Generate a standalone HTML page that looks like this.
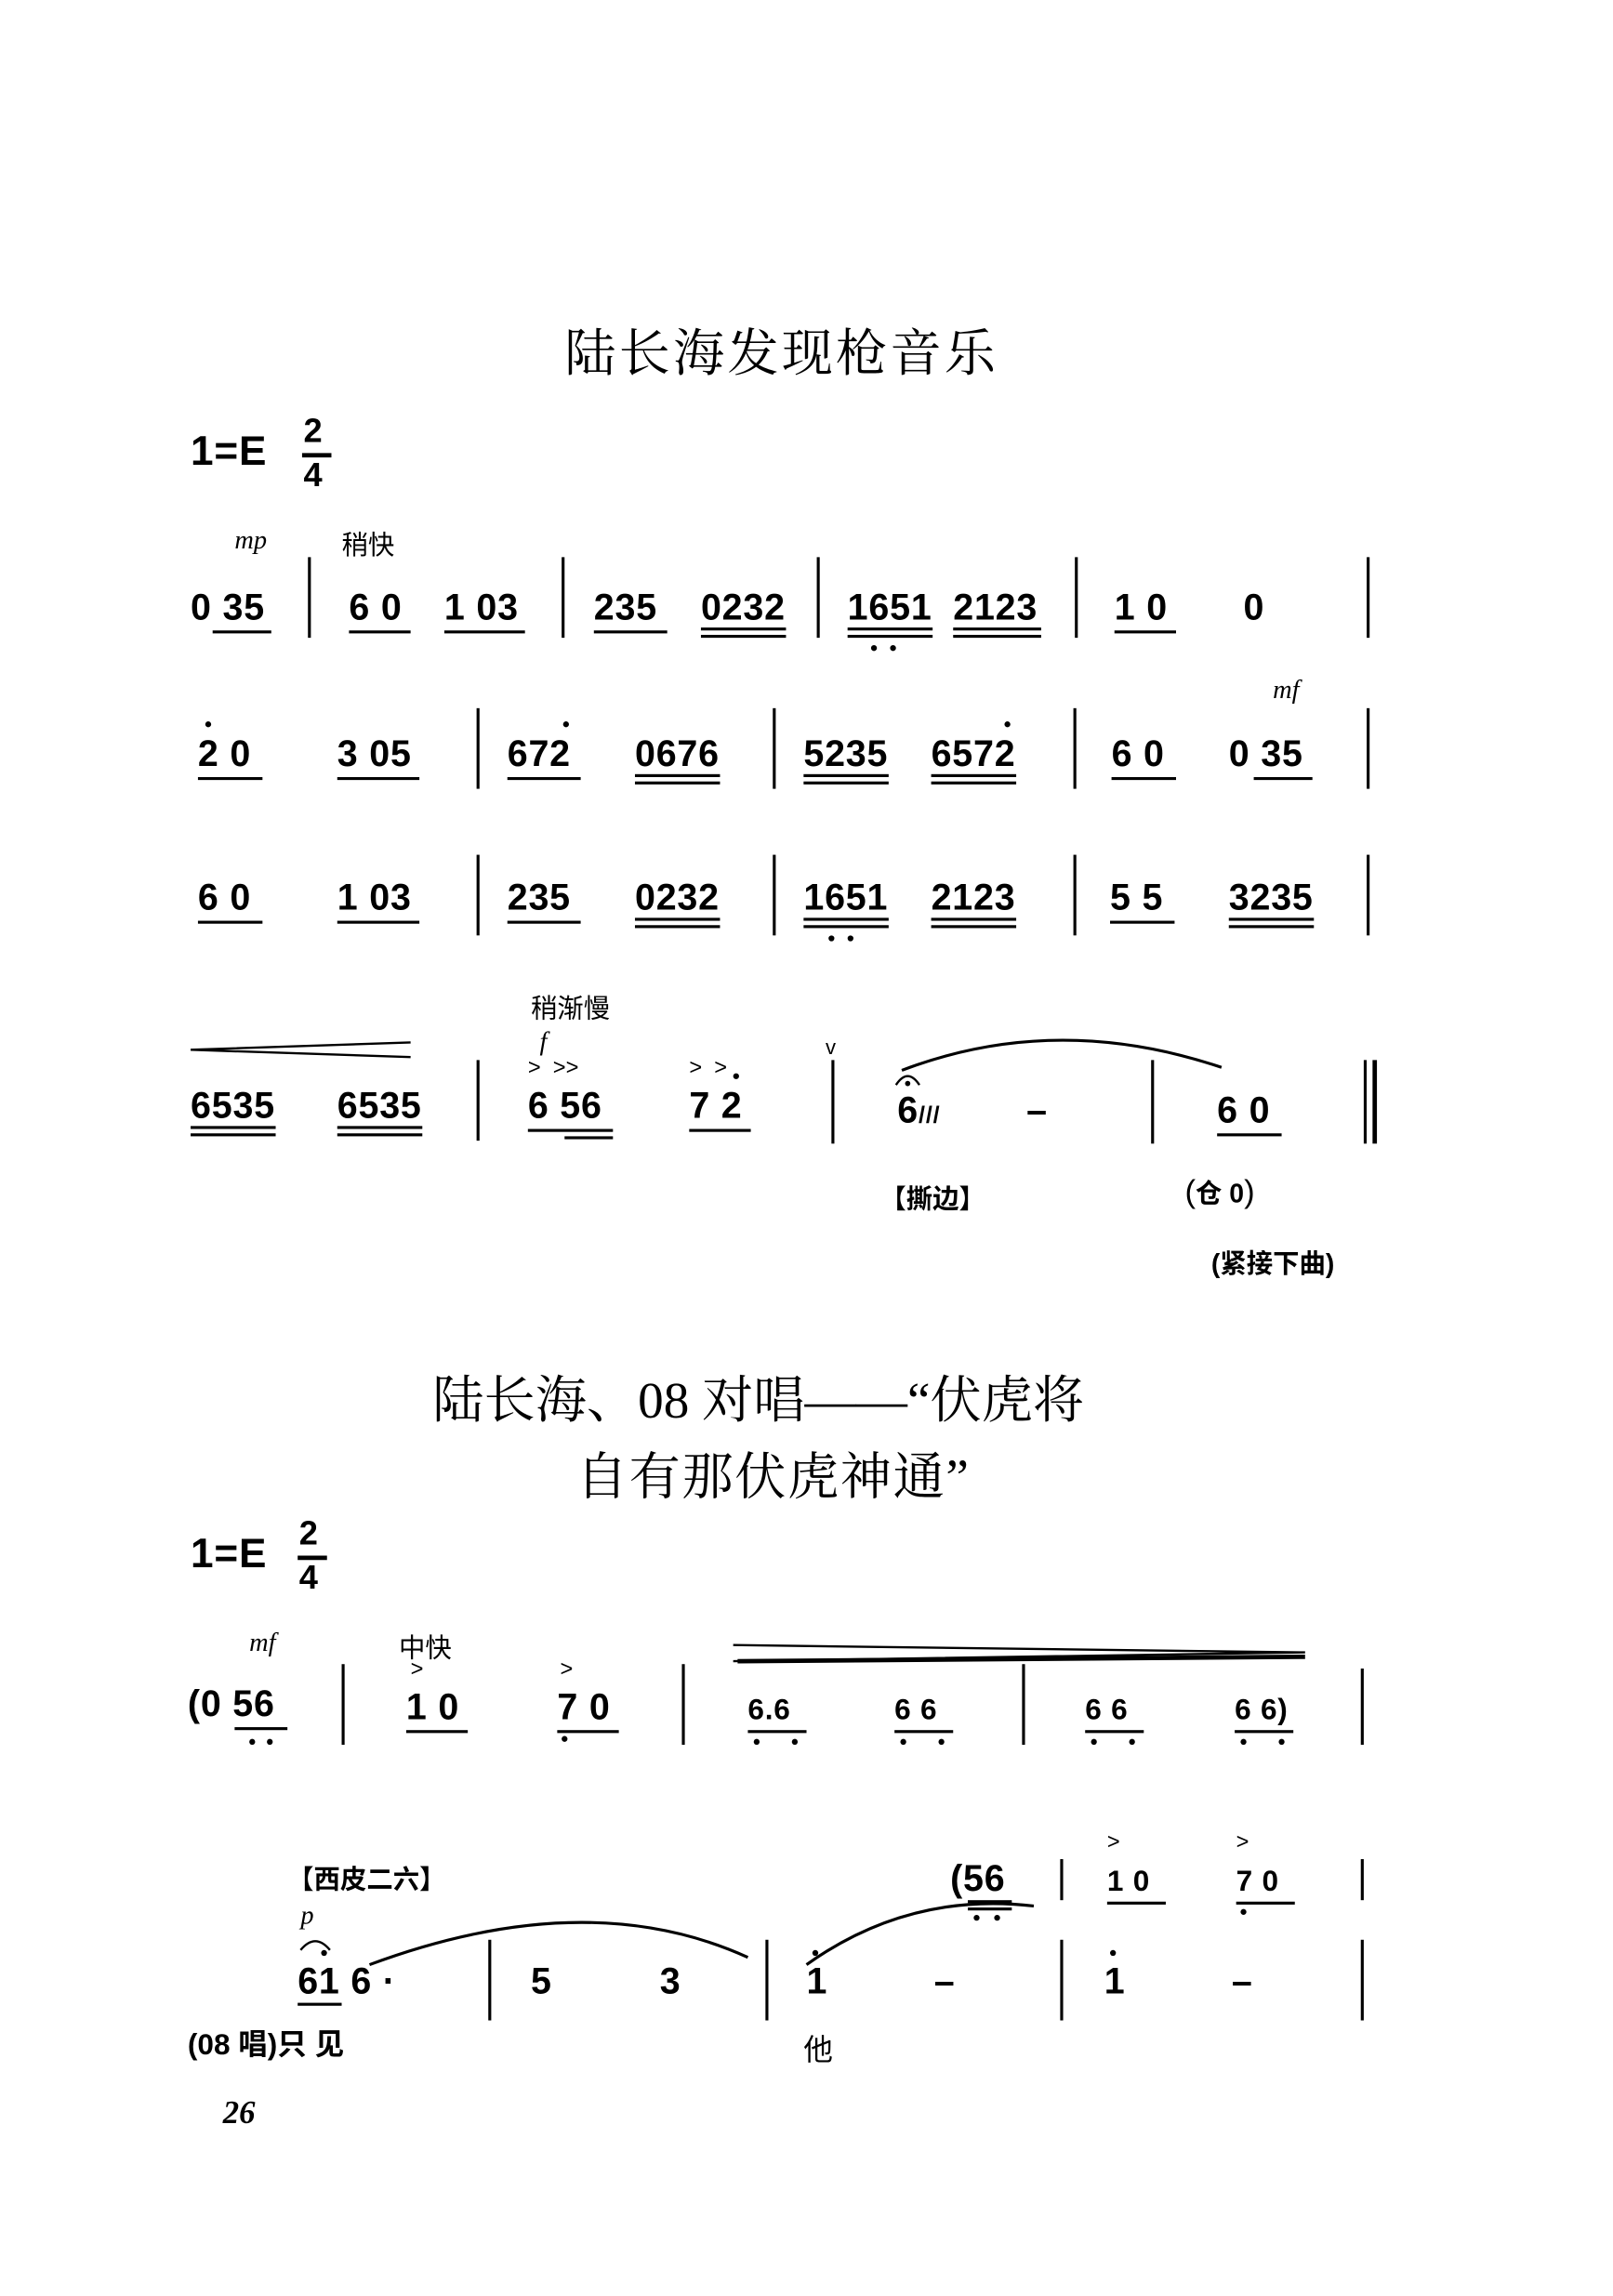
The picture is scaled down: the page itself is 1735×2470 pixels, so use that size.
<!DOCTYPE html>
<html><head><meta charset="utf-8"><style>
body{margin:0;background:#fff;width:1735px;height:2469px;overflow:hidden}
#p{position:absolute;left:0;top:0;width:1100px;height:1566px;transform:scale(1.5773);transform-origin:0 0}
#p div{position:absolute;white-space:nowrap;color:#000}
.n{font:bold 25px "Liberation Sans",sans-serif;transform:translateY(-50%);letter-spacing:0.5px}
.t{font:35px "Liberation Serif","Noto Serif CJK SC",serif;letter-spacing:2px}
.s{font-size:18px;font-family:"Liberation Sans","Noto Sans CJK SC",sans-serif}
.i{font:italic 18px "Liberation Serif",serif}
.b{width:2px;background:#000}
.u{height:2px;background:#000}
.d{width:4px;height:4px;border-radius:50%;background:#000}
</style></head><body><div id="p">
<div class="t" style="left:385px;top:214px">陆长海发现枪音乐</div>
<div class="n" style="left:130px;top:308px;font-size:28px">1=E</div>
<div class="n" style="left:207px;top:294px;font-size:23px">2</div><div class="u" style="left:206px;top:309px;width:20px;height:3px"></div><div class="n" style="left:207px;top:324px;font-size:23px">4</div>

<div class="i" style="left:160px;top:358px">mp</div><div class="s" style="left:233px;top:358px">稍快</div>
<div class="n" style="left:130px;top:415px">0 35</div><div class="u" style="left:145px;top:430px;width:40px"></div>
<div class="b" style="left:210px;top:380px;height:55px"></div>
<div class="n" style="left:238px;top:415px">6 0</div><div class="u" style="left:238px;top:430px;width:42px"></div>
<div class="n" style="left:303px;top:415px">1 03</div><div class="u" style="left:303px;top:430px;width:55px"></div>
<div class="b" style="left:383px;top:380px;height:55px"></div>
<div class="n" style="left:405px;top:415px">235</div><div class="u" style="left:405px;top:430px;width:50px"></div>
<div class="n" style="left:478px;top:415px">0232</div><div class="u" style="left:478px;top:428px;width:58px"></div><div class="u" style="left:478px;top:433px;width:58px"></div>
<div class="b" style="left:557px;top:380px;height:55px"></div>
<div class="n" style="left:578px;top:415px">1651</div><div class="u" style="left:578px;top:428px;width:58px"></div><div class="u" style="left:578px;top:433px;width:58px"></div><div class="d" style="left:594px;top:440px"></div><div class="d" style="left:607px;top:440px"></div>
<div class="n" style="left:650px;top:415px">2123</div><div class="u" style="left:650px;top:428px;width:60px"></div><div class="u" style="left:650px;top:433px;width:60px"></div>
<div class="b" style="left:733px;top:380px;height:55px"></div>
<div class="n" style="left:760px;top:415px">1 0</div><div class="u" style="left:760px;top:430px;width:42px"></div>
<div class="n" style="left:848px;top:415px">0</div>
<div class="b" style="left:932px;top:380px;height:55px"></div>

<div class="i" style="left:868px;top:460px">mf</div>
<div class="n" style="left:135px;top:515px">2 0</div><div class="d" style="left:140px;top:492px"></div><div class="u" style="left:135px;top:530px;width:44px"></div>
<div class="n" style="left:230px;top:515px">3 05</div><div class="u" style="left:230px;top:530px;width:56px"></div>
<div class="b" style="left:325px;top:483px;height:55px"></div>
<div class="n" style="left:346px;top:515px">672</div><div class="d" style="left:384px;top:492px"></div><div class="u" style="left:346px;top:530px;width:50px"></div>
<div class="n" style="left:433px;top:515px">0676</div><div class="u" style="left:433px;top:528px;width:58px"></div><div class="u" style="left:433px;top:533px;width:58px"></div>
<div class="b" style="left:527px;top:483px;height:55px"></div>
<div class="n" style="left:548px;top:515px">5235</div><div class="u" style="left:548px;top:528px;width:58px"></div><div class="u" style="left:548px;top:533px;width:58px"></div>
<div class="n" style="left:635px;top:515px">6572</div><div class="d" style="left:685px;top:492px"></div><div class="u" style="left:635px;top:528px;width:58px"></div><div class="u" style="left:635px;top:533px;width:58px"></div>
<div class="b" style="left:732px;top:483px;height:55px"></div>
<div class="n" style="left:758px;top:515px">6 0</div><div class="u" style="left:758px;top:530px;width:44px"></div>
<div class="n" style="left:838px;top:515px">0 35</div><div class="u" style="left:855px;top:530px;width:40px"></div>
<div class="b" style="left:932px;top:483px;height:55px"></div>

<div class="n" style="left:135px;top:613px">6 0</div><div class="u" style="left:135px;top:628px;width:44px"></div>
<div class="n" style="left:230px;top:613px">1 03</div><div class="u" style="left:230px;top:628px;width:56px"></div>
<div class="b" style="left:325px;top:583px;height:55px"></div>
<div class="n" style="left:346px;top:613px">235</div><div class="u" style="left:346px;top:628px;width:50px"></div>
<div class="n" style="left:433px;top:613px">0232</div><div class="u" style="left:433px;top:626px;width:58px"></div><div class="u" style="left:433px;top:631px;width:58px"></div>
<div class="b" style="left:527px;top:583px;height:55px"></div>
<div class="n" style="left:548px;top:613px">1651</div><div class="u" style="left:548px;top:626px;width:58px"></div><div class="u" style="left:548px;top:631px;width:58px"></div><div class="d" style="left:565px;top:638px"></div><div class="d" style="left:578px;top:638px"></div>
<div class="n" style="left:635px;top:613px">2123</div><div class="u" style="left:635px;top:626px;width:58px"></div><div class="u" style="left:635px;top:631px;width:58px"></div>
<div class="b" style="left:732px;top:583px;height:55px"></div>
<div class="n" style="left:757px;top:613px">5 5</div><div class="u" style="left:757px;top:628px;width:44px"></div>
<div class="n" style="left:838px;top:613px">3235</div><div class="u" style="left:838px;top:626px;width:58px"></div><div class="u" style="left:838px;top:631px;width:58px"></div>
<div class="b" style="left:932px;top:583px;height:55px"></div>

<svg style="position:absolute;left:0;top:0" width="1100" height="1566">
<path d="M130 716 L280 711 M130 716 L280 721" stroke="#000" stroke-width="1.5" fill="none"/>
<path d="M615 730 Q720 690 833 728" stroke="#000" stroke-width="2" fill="none"/>
<path d="M611 740 Q619 728 627 740" stroke="#000" stroke-width="1.5" fill="none"/>
<circle cx="619" cy="739" r="1.8" fill="#000"/>
<path d="M500 1133 L890 1127 L500 1122" stroke="#000" stroke-width="1.5" fill="none"/>
<path d="M503 1133 L890 1130" stroke="#000" stroke-width="3"/>
<path d="M252 1340 Q400 1285 510 1335" stroke="#000" stroke-width="2" fill="none"/>
<path d="M550 1340 Q620 1290 705 1300" stroke="#000" stroke-width="2" fill="none"/>
<path d="M205 1330 Q215 1318 225 1330" stroke="#000" stroke-width="1.5" fill="none"/>
</svg>
<div class="n" style="left:130px;top:755px">6535</div><div class="u" style="left:130px;top:768px;width:58px"></div><div class="u" style="left:130px;top:773px;width:58px"></div>
<div class="n" style="left:230px;top:755px">6535</div><div class="u" style="left:230px;top:768px;width:58px"></div><div class="u" style="left:230px;top:773px;width:58px"></div>
<div class="b" style="left:325px;top:723px;height:55px"></div>
<div class="s" style="left:362px;top:674px">稍渐慢</div>
<div class="i" style="left:368px;top:700px">f</div>
<div class="s" style="left:360px;top:720px;font-size:15px">&gt;&nbsp;&nbsp;&gt;&gt;</div>
<div class="n" style="left:360px;top:755px">6 56</div><div class="u" style="left:360px;top:770px;width:58px"></div><div class="u" style="left:385px;top:775px;width:33px"></div>
<div class="s" style="left:470px;top:720px;font-size:15px">&gt;&nbsp;&nbsp;&gt;</div>
<div class="n" style="left:470px;top:755px">7 2</div><div class="d" style="left:500px;top:732px"></div><div class="u" style="left:470px;top:770px;width:42px"></div>
<div class="s" style="left:563px;top:706px;font-size:14px">v</div>
<div class="b" style="left:567px;top:723px;height:57px"></div>
<div class="n" style="left:612px;top:758px">6<span style="font-size:16px">///</span></div>
<div class="n" style="left:700px;top:758px">–</div>
<div class="b" style="left:785px;top:723px;height:57px"></div>
<div class="n" style="left:830px;top:758px">6 0</div><div class="u" style="left:830px;top:773px;width:44px"></div>
<div class="b" style="left:930px;top:723px;height:57px"></div><div class="b" style="left:936px;top:723px;height:57px;width:3px"></div>
<div class="s" style="left:600px;top:804px;font-weight:bold">【撕边】</div>
<div class="s" style="left:808px;top:800px;font-size:22px">(<b style="font-size:18px">仓 0</b>)</div>
<div class="s" style="left:826px;top:848px;font-weight:bold">(紧接下曲)</div>

<div class="t" style="left:295px;top:928px;letter-spacing:0">陆长海、08 对唱——“伏虎将</div>
<div class="t" style="left:393px;top:980px;letter-spacing:1px">自有那伏虎神通”</div>
<div class="n" style="left:130px;top:1060px;font-size:28px">1=E</div>
<div class="n" style="left:204px;top:1046px;font-size:23px">2</div><div class="u" style="left:203px;top:1061px;width:20px;height:3px"></div><div class="n" style="left:204px;top:1076px;font-size:23px">4</div>

<div class="i" style="left:170px;top:1110px">mf</div><div class="s" style="left:272px;top:1110px">中快</div>
<div class="n" style="left:128px;top:1163px">(0 56</div><div class="u" style="left:160px;top:1178px;width:36px"></div><div class="d" style="left:170px;top:1186px"></div><div class="d" style="left:182px;top:1186px"></div>
<div class="b" style="left:233px;top:1135px;height:55px"></div>
<div class="s" style="left:280px;top:1130px;font-size:15px">&gt;</div><div class="n" style="left:277px;top:1165px">1 0</div><div class="u" style="left:277px;top:1180px;width:42px"></div>
<div class="s" style="left:382px;top:1130px;font-size:15px">&gt;</div><div class="n" style="left:380px;top:1165px">7 0</div><div class="d" style="left:383px;top:1184px"></div><div class="u" style="left:380px;top:1180px;width:42px"></div>
<div class="b" style="left:465px;top:1135px;height:55px"></div>
<div class="n" style="left:510px;top:1167px;font-size:20px">6.6</div><div class="u" style="left:510px;top:1180px;width:40px"></div><div class="d" style="left:514px;top:1186px"></div><div class="d" style="left:540px;top:1186px"></div>
<div class="n" style="left:610px;top:1167px;font-size:20px">6 6</div><div class="u" style="left:610px;top:1180px;width:40px"></div><div class="d" style="left:614px;top:1186px"></div><div class="d" style="left:640px;top:1186px"></div>
<div class="b" style="left:697px;top:1135px;height:55px"></div>
<div class="n" style="left:740px;top:1167px;font-size:20px">6 6</div><div class="u" style="left:740px;top:1180px;width:40px"></div><div class="d" style="left:744px;top:1186px"></div><div class="d" style="left:770px;top:1186px"></div>
<div class="n" style="left:842px;top:1167px;font-size:20px">6 6)</div><div class="u" style="left:842px;top:1180px;width:40px"></div><div class="d" style="left:846px;top:1186px"></div><div class="d" style="left:872px;top:1186px"></div>
<div class="b" style="left:928px;top:1138px;height:52px"></div>

<div class="s" style="left:196px;top:1268px;font-weight:bold">【西皮二六】</div>
<div class="n" style="left:648px;top:1282px">(56</div><div class="u" style="left:660px;top:1296px;width:30px"></div><div class="u" style="left:660px;top:1301px;width:30px"></div><div class="d" style="left:664px;top:1306px"></div><div class="d" style="left:678px;top:1306px"></div>
<div class="b" style="left:723px;top:1268px;height:28px"></div>
<div class="s" style="left:755px;top:1248px;font-size:15px">&gt;</div><div class="n" style="left:755px;top:1284px;font-size:20px">1 0</div><div class="u" style="left:755px;top:1297px;width:40px"></div>
<div class="s" style="left:843px;top:1248px;font-size:15px">&gt;</div><div class="n" style="left:843px;top:1284px;font-size:20px">7 0</div><div class="u" style="left:843px;top:1297px;width:40px"></div><div class="d" style="left:846px;top:1302px"></div>
<div class="b" style="left:928px;top:1268px;height:28px"></div>

<div class="i" style="left:205px;top:1296px">p</div>
<div class="n" style="left:203px;top:1352px">61 6 ·</div><div class="d" style="left:219px;top:1330px"></div><div class="u" style="left:203px;top:1366px;width:30px"></div>
<div class="b" style="left:333px;top:1323px;height:55px"></div>
<div class="n" style="left:362px;top:1352px">5</div><div class="n" style="left:450px;top:1352px">3</div>
<div class="b" style="left:522px;top:1323px;height:55px"></div>
<div class="n" style="left:550px;top:1352px">1</div><div class="d" style="left:554px;top:1330px"></div><div class="n" style="left:637px;top:1352px">–</div>
<div class="b" style="left:723px;top:1323px;height:55px"></div>
<div class="n" style="left:753px;top:1352px">1</div><div class="d" style="left:757px;top:1330px"></div><div class="n" style="left:840px;top:1352px">–</div>
<div class="b" style="left:928px;top:1323px;height:55px"></div>
<div class="s" style="left:128px;top:1378px;font-size:20px;font-weight:bold">(08 唱)只 见</div>
<div class="s" style="left:548px;top:1382px;font-size:20px">他</div>
<div class="i" style="left:152px;top:1428px;font-size:22px;font-weight:bold">26</div>
</div></body></html>
